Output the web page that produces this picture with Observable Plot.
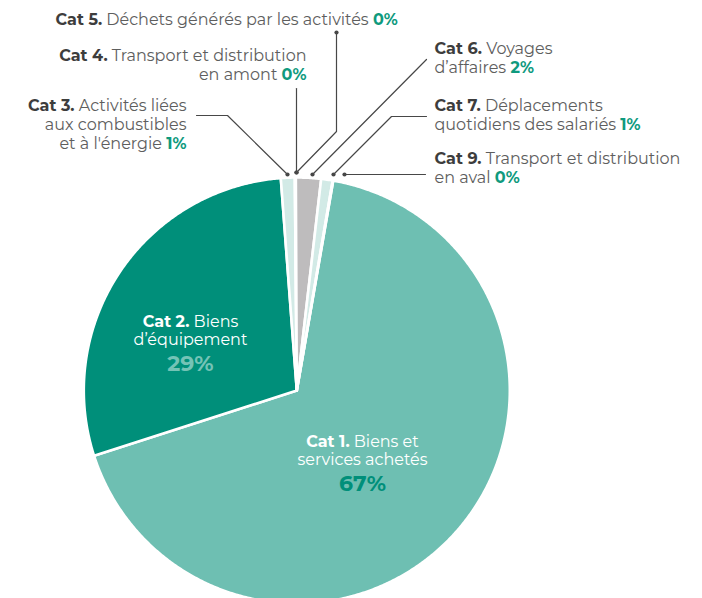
<!DOCTYPE html>
<html><head><meta charset="utf-8">
<script src="https://cdn.jsdelivr.net/npm/d3@7"></script>
<script src="https://cdn.jsdelivr.net/npm/@observablehq/plot@0.6"></script>
<style>
html,body{margin:0;padding:0;background:#fff;}
#chart{width:702px;height:598px;overflow:hidden;}
#chart text{white-space:pre;}
</style></head><body><div id="chart"></div>
<script>
// ---- data ----
const categories = ["Cat 1.", "Cat 2.", "Cat 3.", "Cat 4.", "Cat 5.", "Cat 6.", "Cat 7.", "Cat 9."];
const names = [
  "Biens et services achetés",
  "Biens d’équipement",
  "Activités liées aux combustibles et à l'énergie",
  "Transport et distribution en amont",
  "Déchets générés par les activités",
  "Voyages d’affaires",
  "Déplacements quotidiens des salariés",
  "Transport et distribution en aval"
];
const shares = [67.4, 28.8, 1.05, 0.04, 0.04, 1.9, 0.87, 0.04];
const percentLabels = shares.map(v => Math.round(v) + "%");
// how each name is broken into lines
const nameLines = [
  ["Biens et", "services achetés"],
  ["Biens", "d’équipement"],
  ["Activités liées", "aux combustibles", "et à l'énergie"],
  ["Transport et distribution", "en amont"],
  ["Déchets générés par les activités"],
  ["Voyages", "d’affaires"],
  ["Déplacements", "quotidiens des salariés"],
  ["Transport et distribution", "en aval"]
];

// ---- styles / layout ----
const sliceColors = ["#6ebfb2", "#008f7a", "#d2eae6", "#d2eae6", "#d2eae6", "#bebcbd", "#d2eae6", "#d2eae6"];
const W = 702, H = 598, CX = 296.3, CY = 390, R = 213, START = 9.85;
const FONT = "Montserrat, 'Open Sans', sans-serif";
const FS = 16, LH = 19;
// label layout: [anchor, x, first baseline, inside?]
const labelLayout = {
  "Cat 1.": ["middle", 362, 446, "in"],
  "Cat 2.": ["middle", 190, 326, "in"],
  "Cat 3.": ["end", 186, 110],
  "Cat 4.": ["end", 306, 60],
  "Cat 5.": ["start", 55, 24],
  "Cat 6.": ["start", 434, 53],
  "Cat 7.": ["start", 434, 110],
  "Cat 9.": ["start", 434, 163]
};
const leaders = {
  "Cat 3.": [[196, 115], [227, 115], [287, 174]],
  "Cat 4.": [[296, 88], [296, 172]],
  "Cat 5.": [[336, 32], [336, 131], [296, 172]],
  "Cat 6.": [[426, 59], [312, 174]],
  "Cat 7.": [[426, 116], [391, 116], [333, 174]],
  "Cat 9.": [[425, 174], [344, 174]]
};
const extraDots = [[336, 32]];

// ---- pie geometry ----
const total = d3.sum(shares);
const slicePts = [];
let acc = START;
categories.forEach((c, i) => {
  const a0 = acc, a1 = acc + shares[i] / total * 360;
  acc = a1;
  const n = Math.max(2, Math.ceil((a1 - a0) / 0.4));
  slicePts.push({cat: c, x: CX, y: CY});
  for (let k = 0; k <= n; k++) {
    const a = (a0 + (a1 - a0) * k / n) * Math.PI / 180;
    slicePts.push({cat: c, x: CX + R * Math.sin(a), y: CY - R * Math.cos(a)});
  }
  slicePts.push({cat: c, x: CX, y: CY});
});

// ---- text rows ----
const textRows = [];
categories.forEach((c, i) => {
  const [anchor, x, y0, inside] = labelLayout[c];
  const lines = nameLines[i];
  if (inside) {
    lines.forEach((ln, j) => {
      const t = j === 0 ? "§B" + c + "§W " + ln : "§W" + ln;
      textRows.push({anchor, x, y: y0 + j * 18, t});
    });
    textRows.push({anchor, x, y: y0 + (lines.length - 1) * 18 + 26, t: (i === 0 ? "§D" : "§L") + percentLabels[i]});
  } else {
    lines.forEach((ln, j) => {
      let t = (j === 0 ? "§b" + c + "§r " : "§r") + ln;
      if (j === lines.length - 1) t += "§r §p" + percentLabels[i];
      textRows.push({anchor, x, y: y0 + j * LH, t});
    });
  }
});

const leaderPts = [];
const dotPts = [];
Object.entries(leaders).forEach(([c, pts]) => {
  pts.forEach(([x, y]) => leaderPts.push({cat: c, x, y}));
  const [x, y] = pts[pts.length - 1];
  dotPts.push({x, y});
});
extraDots.forEach(([x, y]) => dotPts.push({x, y}));

const textMark = anchor => Plot.text(textRows.filter(d => d.anchor === anchor), {
  x: "x", y: "y", text: "t", textAnchor: anchor, lineAnchor: "bottom", fontSize: FS
});

const svg = Plot.plot({
  width: W, height: H, margin: 0,
  style: {fontFamily: FONT, background: "#fff", overflow: "hidden"},
  x: {domain: [0, W], axis: null},
  y: {domain: [H, 0], axis: null},
  color: {domain: categories, range: sliceColors},
  marks: [
    Plot.line(slicePts, {x: "x", y: "y", z: "cat", fill: "cat", stroke: "#fff", strokeWidth: 2.6, strokeLinejoin: "round", curve: "linear"}),
    Plot.line(leaderPts, {x: "x", y: "y", z: "cat", stroke: "#474747", strokeWidth: 1.2}),
    Plot.dot(dotPts, {x: "x", y: "y", r: 2.1, fill: "#474747"}),
    textMark("start"), textMark("end"), textMark("middle")
  ]
});

// mixed styling inside each label line
const styles = {
  b: {"font-weight": 700, fill: "#3d3d3d"},
  r: {"font-weight": 400, fill: "#5e5e5e"},
  p: {"font-weight": 700, fill: "#0f9a7e"},
  B: {"font-weight": 700, fill: "#ffffff"},
  W: {"font-weight": 400, fill: "#ffffff"},
  L: {"font-weight": 700, fill: "#74c3b6", "font-size": 22},
  D: {"font-weight": 700, fill: "#008f7a", "font-size": 22}
};
svg.querySelectorAll("text").forEach(t => {
  const s = t.textContent;
  if (!s.includes("§")) return;
  t.textContent = "";
  s.split("§").filter(Boolean).forEach(part => {
    const ts = document.createElementNS("http://www.w3.org/2000/svg", "tspan");
    ts.textContent = part.slice(1);
    const st = styles[part[0]];
    for (const k in st) ts.setAttribute(k, st[k]);
    t.appendChild(ts);
  });
});
document.getElementById("chart").appendChild(svg);
</script>
</body></html>
